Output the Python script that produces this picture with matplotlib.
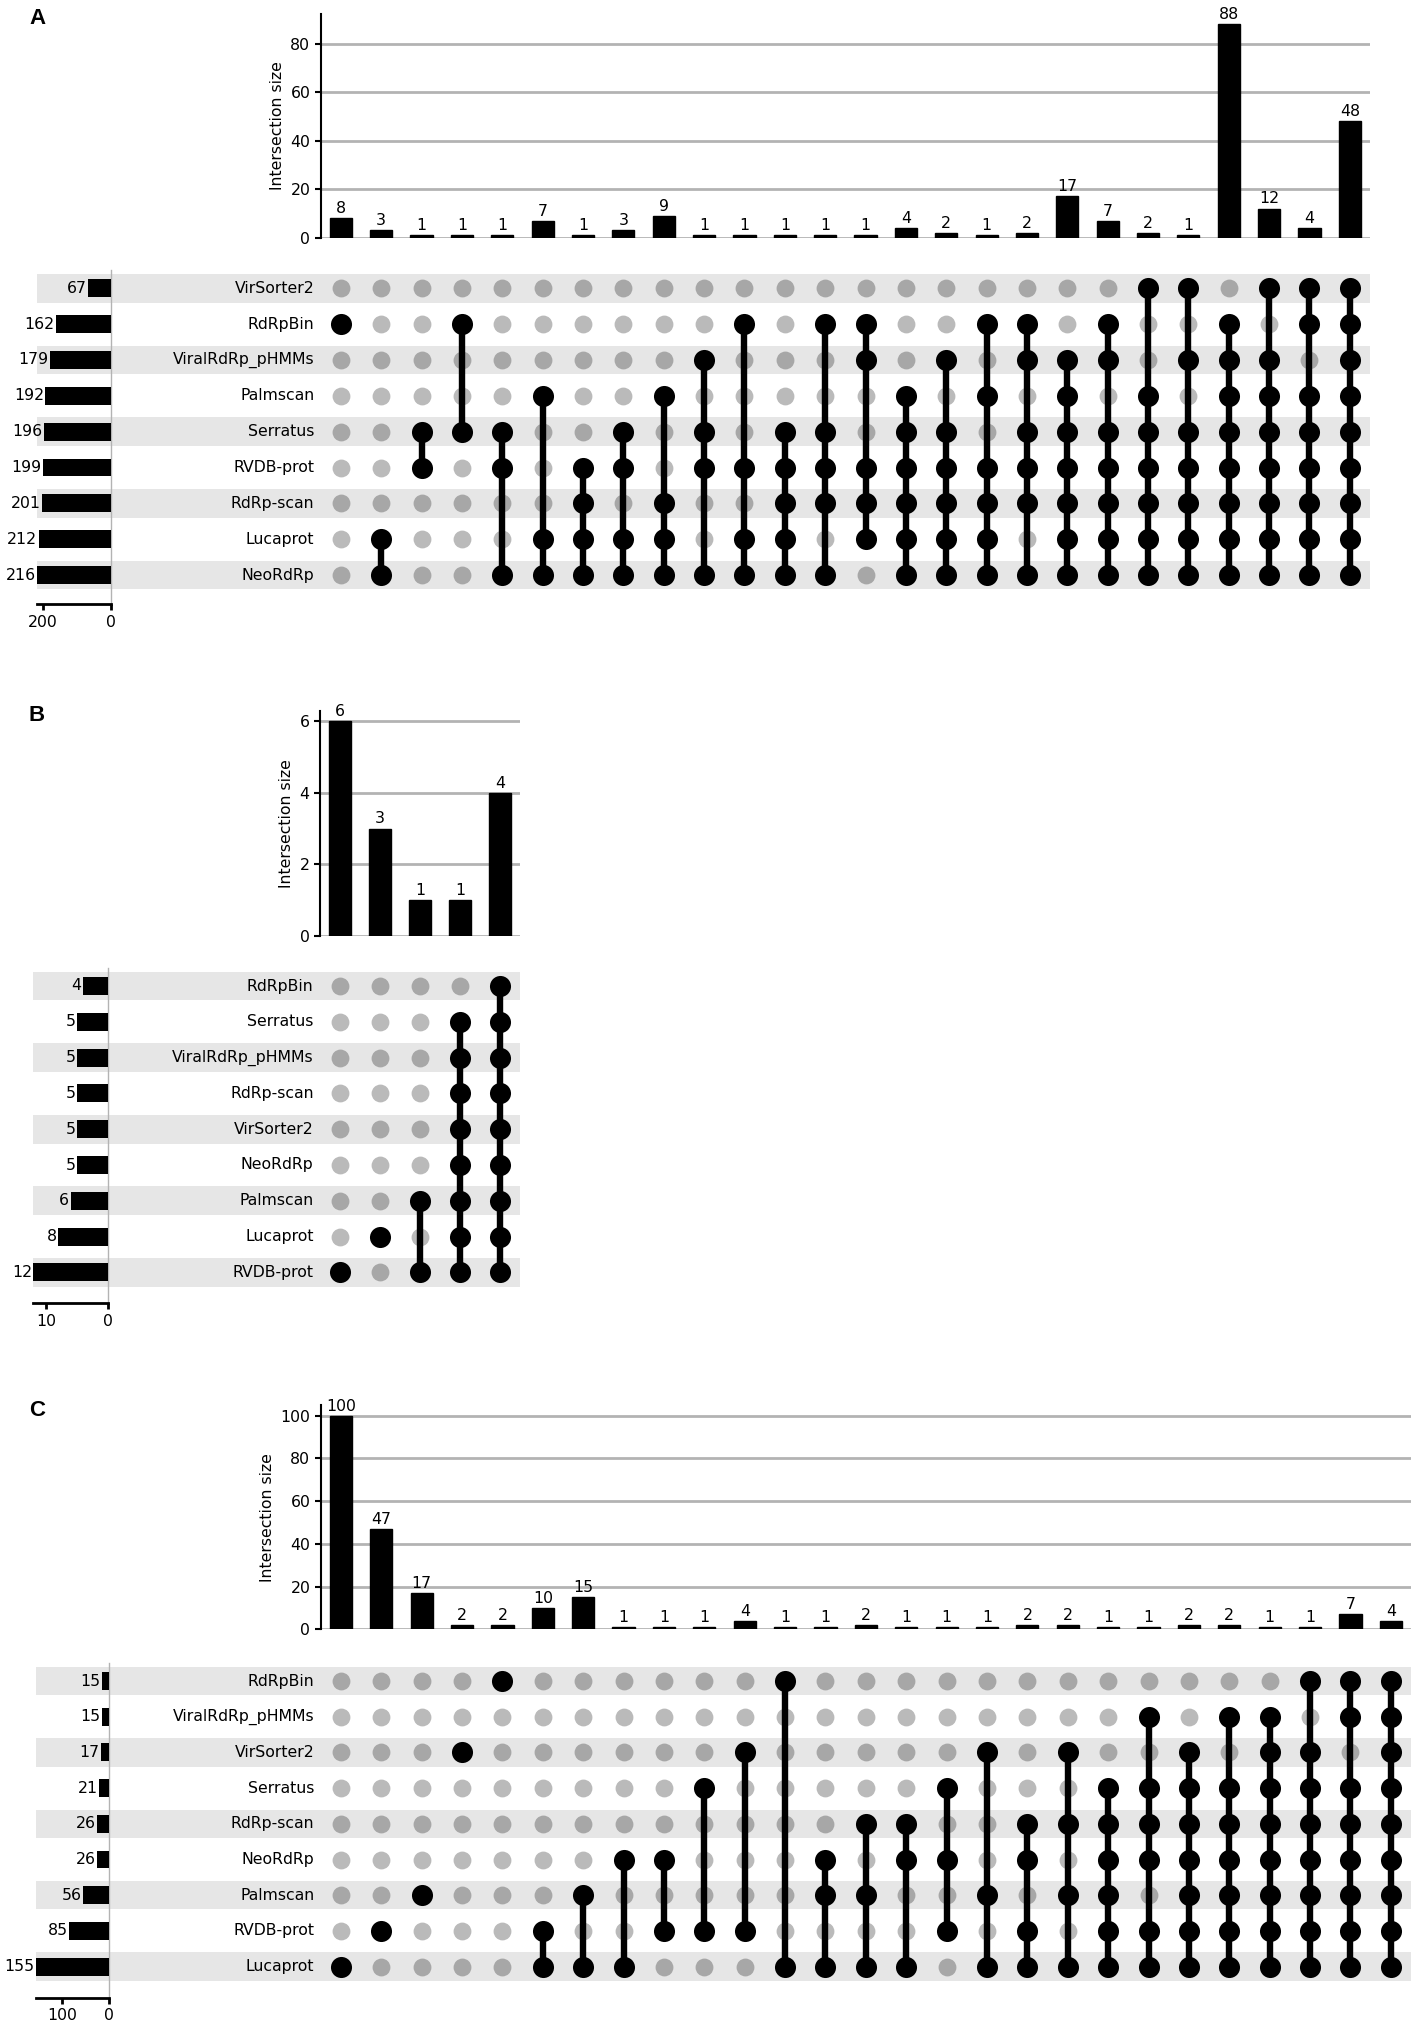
"""UpSet plots of RdRp detection tools, panels A, B and C."""
import matplotlib
matplotlib.use("Agg")
import matplotlib.pyplot as plt
from matplotlib.patches import Rectangle
import numpy as np

plt.rcParams["font.family"] = "DejaVu Sans"
plt.rcParams["font.size"] = 11.3

W, H = 1417, 2027

# --- Panel A ---
sets_a = ["VirSorter2", "RdRpBin", "ViralRdRp_pHMMs", "Palmscan", "Serratus",
          "RVDB-prot", "RdRp-scan", "Lucaprot", "NeoRdRp"]
totals_a = [67, 162, 179, 192, 196, 199, 201, 212, 216]
# one string per intersection, one character per set (top row first)
patterns_a = ["010000000", "000000011", "000011000", "010010000", "000011001",
              "000100011", "000001111", "000011011", "000100111", "001011001",
              "010001011", "000011111", "010011101", "011001110", "000111111",
              "001011111", "010101111", "011011101", "001111111", "011011111",
              "100111111", "101011111", "011111111", "101111111", "110111111",
              "111111111"]
counts_a = [8, 3, 1, 1, 1, 7, 1, 3, 9, 1, 1, 1, 1, 1, 4, 2, 1, 2, 17, 7, 2, 1,
            88, 12, 4, 48]
yticks_a = [0, 20, 40, 60, 80]
ticks_a = [0, 200]

# --- Panel B ---
sets_b = ["RdRpBin", "Serratus", "ViralRdRp_pHMMs", "RdRp-scan", "VirSorter2",
          "NeoRdRp", "Palmscan", "Lucaprot", "RVDB-prot"]
totals_b = [4, 5, 5, 5, 5, 5, 6, 8, 12]
patterns_b = ["000000001", "000000010", "000000101", "011111111", "111111111"]
counts_b = [6, 3, 1, 1, 4]
yticks_b = [0, 2, 4, 6]
ticks_b = [0, 10]

# --- Panel C ---
sets_c = ["RdRpBin", "ViralRdRp_pHMMs", "VirSorter2", "Serratus", "RdRp-scan",
          "NeoRdRp", "Palmscan", "RVDB-prot", "Lucaprot"]
totals_c = [15, 15, 17, 21, 26, 26, 56, 85, 155]
patterns_c = ["000000001", "000000010", "000000100", "001000000", "100000000",
              "000000011", "000000101", "000001001", "000001010", "000100010",
              "001000010", "100000001", "000001101", "000010101", "000011001",
              "000101010", "001000101", "000011011", "001010101", "000111111",
              "010111011", "001111111", "010111111", "011111111", "101111111",
              "110111111", "111111111"]
counts_c = [100, 47, 17, 2, 2, 10, 15, 1, 1, 1, 4, 1, 1, 2, 1, 1, 1, 2, 2, 1, 1,
            2, 2, 1, 1, 7, 4]
yticks_c = [0, 20, 40, 60, 80, 100]
ticks_c = [0, 100]

BAND = "#e6e6e6"
GRID = "#b3b3b3"
GREY_DOT = (0, 0, 0, 0.27)


def frac(left, top, right, bottom):
    """Pixel box (from the top-left corner) to figure fractions."""
    return [left / W, 1 - bottom / H, (right - left) / W, (bottom - top) / H]


def draw_upset(fig, sets, patterns, counts, yticks, totals, tot_ticks, box):
    top, zero, x0, x1, row0, step, t0, t1, tbot = box
    n = len(patterns)
    m = len(sets)
    xs = np.arange(n)
    mtop = row0 - step / 2
    mbot = row0 + (m - 0.5) * step

    # matrix of dots (added first so the totals bars sit above the shading)
    axm = fig.add_axes(frac(x0, mtop, x1, mbot))
    axm.set_xlim(-0.5, n - 0.5)
    axm.set_ylim(m - 0.5, -0.5)
    axm.axis("off")
    band_x = (t0 - x0) / (x1 - x0)
    for i in range(0, m, 2):
        axm.add_patch(Rectangle((band_x, i - 0.4), 1 - band_x, 0.8,
                                transform=axm.get_yaxis_transform(),
                                color=BAND, lw=0, clip_on=False, zorder=0))
    for i, name in enumerate(sets):
        axm.annotate(name, (0, i), xycoords=axm.get_yaxis_transform(),
                     xytext=(-4.5, 0), textcoords="offset points",
                     ha="right", va="center")
    for j, p in enumerate(patterns):
        on = [i for i, c in enumerate(p) if c == "1"]
        off = [i for i, c in enumerate(p) if c == "0"]
        axm.scatter([j] * len(off), off, s=165, color=GREY_DOT, lw=0, zorder=1)
        if len(on) > 1:
            axm.plot([j, j], [min(on), max(on)], color="black", lw=4.6,
                     solid_capstyle="butt", zorder=2)
        axm.scatter([j] * len(on), on, s=230, color="black", lw=0, zorder=3)

    # intersection sizes
    axb = fig.add_axes(frac(x0, top, x1, zero))
    axb.bar(xs, counts, width=0.55, color="black", edgecolor="black",
            linewidth=1.0, zorder=3)
    axb.set_xlim(-0.5, n - 0.5)
    axb.set_ylim(0, max(counts) * 1.05)
    axb.set_yticks(yticks)
    for x, c in zip(xs, counts):
        axb.annotate(str(c), (x, c), xytext=(0, 1.5), textcoords="offset points",
                     ha="center", va="bottom")
    axb.yaxis.grid(True, color=GRID, lw=2.0)
    axb.set_axisbelow(True)
    for s in ["top", "right", "bottom"]:
        axb.spines[s].set_visible(False)
    axb.spines["left"].set_linewidth(1.5)
    axb.tick_params(axis="y", width=1.5, length=4)
    axb.set_xticks([])
    axb.set_ylabel("Intersection size")

    # set totals
    axt = fig.add_axes(frac(t0, mtop, t1, tbot))
    axt.patch.set_visible(False)
    axt.barh(np.arange(m), totals, height=0.5, color="black", zorder=3)
    axt.set_xlim(max(totals), 0)
    axt.set_ylim((tbot - row0) / step, -0.5)
    for i, t in enumerate(totals):
        axt.annotate(str(t), (t, i), xytext=(-1, 0), textcoords="offset points",
                     ha="right", va="center")
    axt.spines["top"].set_visible(False)
    axt.spines["left"].set_visible(False)
    axt.spines["right"].set_color(GRID)
    axt.spines["right"].set_linewidth(1.0)
    axt.spines["bottom"].set_linewidth(2.0)
    axt.set_yticks([])
    axt.set_xticks(tot_ticks)
    axt.tick_params(axis="x", width=2.0, length=4)


fig = plt.figure(figsize=(W / 100, H / 100), dpi=100)

# boxes: bar top, bar zero, matrix left, matrix right, first row, row step,
#        totals left, totals right, totals bottom (all in pixels)
draw_upset(fig, sets_a, patterns_a, counts_a, yticks_a, totals_a, ticks_a,
           (13.5, 237.7, 320.7, 1370, 288.3, 35.84, 37.3, 111, 604.3))
draw_upset(fig, sets_b, patterns_b, counts_b, yticks_b, totals_b, ticks_b,
           (710.7, 935.7, 320, 520, 986, 35.8, 33.4, 107.7, 1303.3))
draw_upset(fig, sets_c, patterns_c, counts_c, yticks_c, totals_c, ticks_c,
           (1405, 1629.3, 320.7, 1411, 1681, 35.7, 35.7, 109.3, 1997.7))

for letter, y in [("A", 8), ("B", 705), ("C", 1400)]:
    fig.text(29 / W, 1 - y / H, letter, fontsize=16, fontweight="bold",
             family="Liberation Sans", ha="left", va="top")

fig.savefig("out.png", dpi=100)
